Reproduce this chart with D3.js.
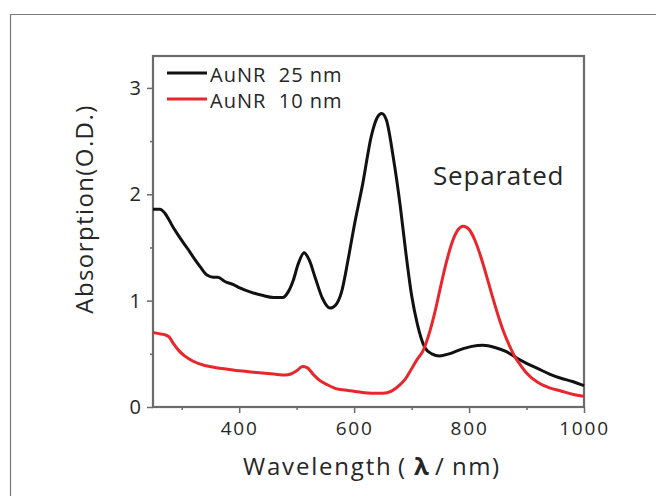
<!DOCTYPE html>
<html>
<head>
<meta charset="utf-8">
<script src="https://cdn.jsdelivr.net/npm/d3@7"></script>
<style>
  body { margin: 0; background: #fff; }
  svg { display: block; }
</style>
</head>
<body>
<svg id="chart" width="656" height="496"></svg>
<script>
// absorption spectra (wavelength nm, O.D.)
const wl25 = [250, 262, 271, 285, 297, 310, 320, 332, 344, 355, 363, 375, 390, 401, 420, 440, 460, 476, 485, 494, 503, 513, 522, 532, 545, 558, 568, 578, 590, 600, 615, 630, 640, 648, 656, 668, 680, 690, 700, 710, 723, 735, 749, 765, 785, 805, 824, 845, 865, 880, 900, 920, 940, 960, 980, 1000];
const od25 = [1.86, 1.86, 1.82, 1.69, 1.59, 1.49, 1.41, 1.32, 1.24, 1.22, 1.22, 1.18, 1.15, 1.12, 1.08, 1.05, 1.03, 1.03, 1.08, 1.19, 1.35, 1.45, 1.38, 1.22, 1.02, 0.93, 0.96, 1.08, 1.40, 1.70, 2.10, 2.55, 2.72, 2.76, 2.70, 2.35, 1.90, 1.45, 1.05, 0.78, 0.56, 0.50, 0.48, 0.50, 0.54, 0.57, 0.58, 0.56, 0.52, 0.47, 0.41, 0.36, 0.31, 0.27, 0.24, 0.20];

const wl10 = [250, 260, 270, 278, 285, 295, 305, 320, 340, 360, 380, 400, 420, 440, 460, 480, 490, 500, 510, 518, 530, 540, 553, 570, 590, 610, 630, 650, 665, 680, 690, 700, 710, 720, 730, 740, 750, 760, 770, 780, 790, 800, 810, 820, 830, 840, 850, 860, 870, 880, 890, 900, 920, 940, 960, 980, 1000];
const od10 = [0.70, 0.69, 0.68, 0.66, 0.60, 0.53, 0.48, 0.43, 0.39, 0.37, 0.355, 0.34, 0.33, 0.32, 0.31, 0.30, 0.31, 0.34, 0.38, 0.37, 0.30, 0.25, 0.21, 0.17, 0.155, 0.14, 0.13, 0.13, 0.15, 0.21, 0.27, 0.36, 0.45, 0.53, 0.68, 0.88, 1.12, 1.35, 1.54, 1.66, 1.70, 1.67, 1.57, 1.42, 1.24, 1.05, 0.87, 0.71, 0.58, 0.47, 0.39, 0.32, 0.23, 0.18, 0.15, 0.12, 0.10];

const seriesNames = ["AuNR  25 nm", "AuNR  10 nm"];
const seriesColors = ["#111111", "#e8262b"];
const xTicks = [400, 600, 800, 1000];
const xMinor = [300, 500, 700, 900];
const yTicks = [0, 1, 2, 3];
const yMinor = [0.5, 1.5, 2.5];

const font = '"Open Sans", sans-serif';
const axisColor = "#6b6b6b";
const textColor = "#262626";

const svg = d3.select("#chart");

// outer frame (only top and left visible)
svg.append("path")
    .attr("d", "M10.5,496 L10.5,14.5 L656,14.5")
    .attr("fill", "none")
    .attr("stroke", "#7a7a7a")
    .attr("stroke-width", 1.2);

const plotL = 153, plotR = 584, plotT = 56, plotB = 407;

const x = d3.scaleLinear().domain([250, 1000]).range([plotL, plotR]);
const y = d3.scaleLinear().domain([0, 3.3]).range([plotB, plotT]);

// axes
const gx = svg.append("g")
    .attr("transform", `translate(0,${plotB})`)
    .call(d3.axisBottom(x).tickValues(xTicks).tickSize(6).tickPadding(9).tickFormat(d3.format("d")));
svg.append("g")
    .attr("transform", `translate(0,${plotB})`)
    .call(d3.axisBottom(x).tickValues(xMinor).tickSize(3).tickFormat(""));

const gy = svg.append("g")
    .attr("transform", `translate(${plotL},0)`)
    .call(d3.axisLeft(y).tickValues(yTicks).tickSize(6).tickPadding(6).tickFormat(d3.format("d")));
svg.append("g")
    .attr("transform", `translate(${plotL},0)`)
    .call(d3.axisLeft(y).tickValues(yMinor).tickSize(3).tickFormat(""));

svg.selectAll(".domain").remove();
svg.selectAll(".tick line").attr("stroke", axisColor).attr("stroke-width", 1.5);
svg.selectAll(".tick text")
    .attr("fill", textColor)
    .style("font-family", font)
    .style("font-size", "19px");
gx.selectAll(".tick text").style("letter-spacing", "1.8px");
gy.selectAll(".tick text").style("font-size", "20px");

// plot frame
svg.append("rect")
    .attr("x", plotL)
    .attr("y", plotT)
    .attr("width", plotR - plotL)
    .attr("height", plotB - plotT)
    .attr("fill", "none")
    .attr("stroke", axisColor)
    .attr("stroke-width", 2.2);

// curves
const line = d3.line()
    .x(d => x(d[0]))
    .y(d => y(d[1]))
    .curve(d3.curveMonotoneX);

const series = [d3.zip(wl25, od25), d3.zip(wl10, od10)];

series.forEach((s, i) => {
    svg.append("path")
        .datum(s)
        .attr("d", line)
        .attr("fill", "none")
        .attr("stroke", seriesColors[i])
        .attr("stroke-width", 3)
        .attr("stroke-linejoin", "round");
});

// legend
seriesNames.forEach((name, i) => {
    const ly = 73 + i * 26;
    svg.append("line")
        .attr("x1", 167).attr("x2", 207)
        .attr("y1", ly).attr("y2", ly)
        .attr("stroke", seriesColors[i])
        .attr("stroke-width", 3);
    svg.append("text")
        .attr("x", 210)
        .attr("y", ly + 9)
        .style("font-family", font)
        .style("font-size", "20px")
        .style("letter-spacing", "1px")
        .style("white-space", "pre")
        .attr("fill", textColor)
        .text(name);
});

// annotation
svg.append("text")
    .attr("x", 433)
    .attr("y", 185)
    .style("font-family", font)
    .style("font-size", "26px")
    .style("letter-spacing", "0.8px")
    .attr("fill", textColor)
    .text("Separated");

// axis titles
const xt = svg.append("text")
    .attr("y", 475)
    .style("font-family", font)
    .style("font-size", "24px")
    .attr("fill", textColor);
xt.append("tspan").attr("x", 243).style("letter-spacing", "1.8px").text("Wavelength");
xt.append("tspan").attr("x", 398).text("(");
xt.append("tspan").attr("x", 414).style("font-weight", "bold").text("λ");
xt.append("tspan").attr("x", 435).text("/");
xt.append("tspan").attr("x", 452).style("letter-spacing", "1.5px").text("nm)");

svg.append("text")
    .attr("transform", "translate(93,209) rotate(-90)")
    .attr("text-anchor", "middle")
    .style("font-family", font)
    .style("font-size", "24px")
    .style("letter-spacing", "1.4px")
    .attr("fill", textColor)
    .text("Absorption(O.D.)");
</script>
</body>
</html>
